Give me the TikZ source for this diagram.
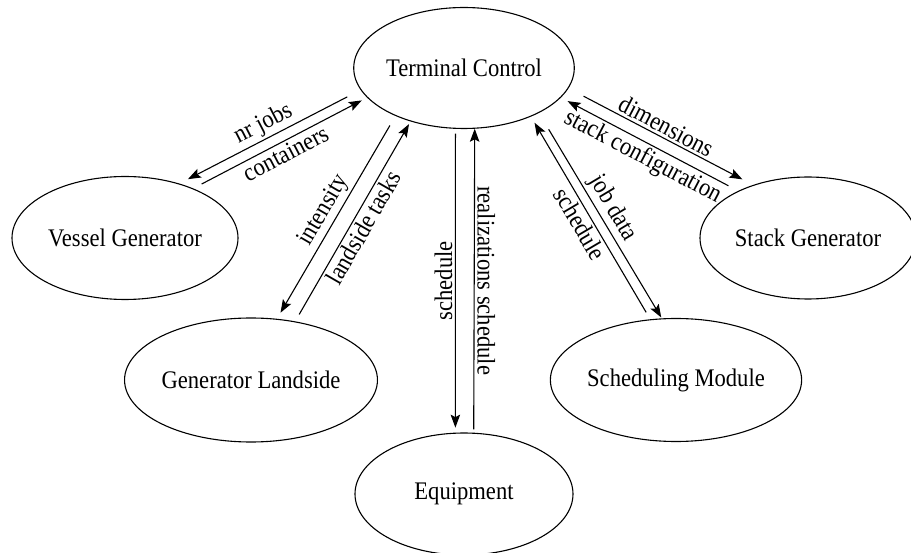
\documentclass[tikz,border=0pt]{standalone}
\usepackage{fontspec}
\setmainfont{Liberation Serif}
\usetikzlibrary{arrows.meta,shapes.geometric}

% text is set slightly taller than its natural shape
\newcommand{\tall}[1]{\scalebox{1}[1.12]{#1}}

\begin{document}
\begin{tikzpicture}[x=1pt,y=-1pt,
  every node/.style={font=\fontsize{22.6}{27}\selectfont},
  module/.style={ellipse,draw,line width=1.1pt,inner sep=0pt},
  flow/.style={line width=1.1pt,-{Stealth[length=13pt,width=9.5pt,inset=2.5pt]}},
  lbl/.style={sloped,inner sep=2.5pt}
]
\useasboundingbox (0,0) rectangle (911,553);

% modules
\node[module,minimum width=218pt,minimum height=121pt] (tc) at (464,68)  {\tall{Terminal Control}};
\node[module,minimum width=226pt,minimum height=123pt] (vg) at (125,238) {\tall{Vessel Generator}};
\node[module,minimum width=216pt,minimum height=122pt] (sg) at (808,238) {\tall{Stack Generator}};
\node[module,minimum width=218pt,minimum height=124pt] (gl) at (251,380) {\tall{Generator Landside}};
\node[module,minimum width=216pt,minimum height=123pt] (sm) at (676,380) {\tall{Scheduling Module}};
\node[module,minimum width=218pt,minimum height=122pt] (eq) at (464,494) {\tall{Equipment}};

% vessel generator
\draw[flow,shorten <=15pt,shorten >=9.5pt] (tc.192) -- node[lbl,above] {\tall{nr jobs}} (vg.45);
\draw[flow,shorten <=9.5pt,shorten >=6pt] (vg.36) -- node[lbl,below] {\tall{containers}} (tc.197);

% landside
\draw[flow,shorten <=11pt,shorten >=7pt] (tc.215) -- node[lbl,above] {\tall{intensity}} (gl.67);
\draw[flow,shorten <=8pt,shorten >=3pt] (gl.53) -- node[lbl,below] {\tall{landside tasks}} (tc.225);

% equipment
\draw[flow,shorten <=4.7pt,shorten >=5pt] (tc.262) -- node[rotate=90,anchor=south,inner sep=2.5pt] {\tall{schedule}} (eq.98);
\draw[flow,shorten <=3.3pt,shorten >=0pt] (eq.81) -- node[rotate=-90,anchor=south,inner sep=2.5pt] {\tall{realizations schedule}} (tc.280);

% scheduling module
\draw[flow,shorten <=8pt,shorten >=7pt] (sm.113) -- node[lbl,below] {\tall{schedule}} (tc.324);
\draw[flow,shorten <=19pt,shorten >=1pt] (tc.329) -- node[lbl,above] {\tall{job data}} (sm.103);

% stack generator
\draw[flow,shorten <=17pt,shorten >=12pt] (tc.349) -- node[lbl,above] {\tall{dimensions}} (sg.136);
\draw[flow,shorten <=11pt,shorten >=7.5pt] (sg.146) -- node[lbl,below] {\tall{stack configuration}} (tc.343);
\end{tikzpicture}
\end{document}
